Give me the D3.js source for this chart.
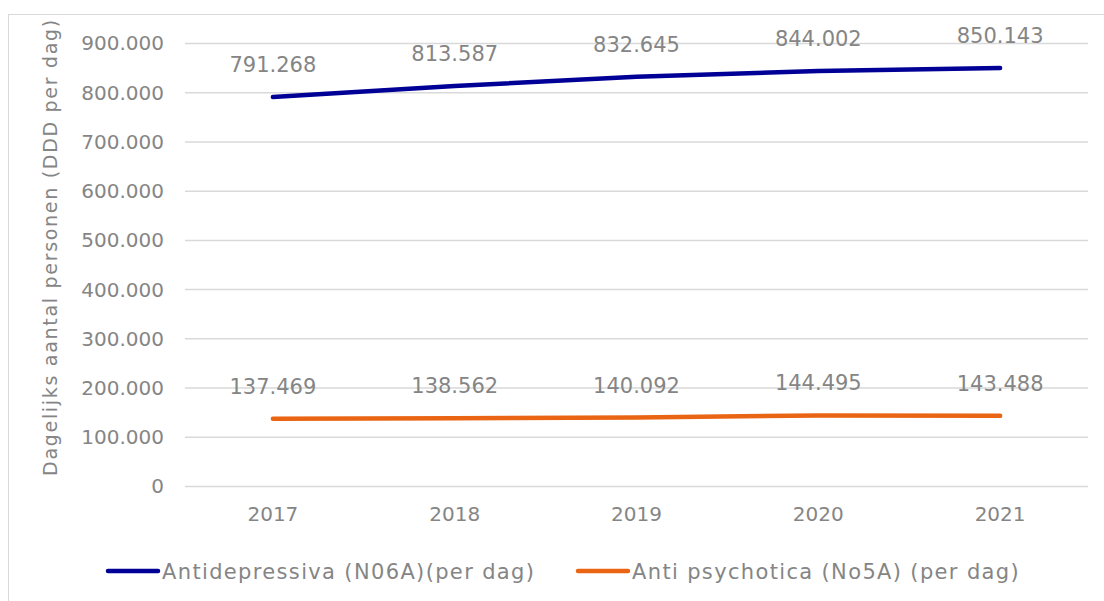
<!DOCTYPE html>
<html>
<head>
<meta charset="utf-8">
<script src="https://cdn.jsdelivr.net/npm/d3@7"></script>
<style>
  body { margin: 0; background: #fff; }
  text { font-family: "Century Gothic", "DejaVu Sans", sans-serif; fill: #858585; }
</style>
</head>
<body>
<script>
'use strict';

const years = ["2017", "2018", "2019", "2020", "2021"];
const antidepressiva = [791268, 813587, 832645, 844002, 850143];
const antipsychotica = [137469, 138562, 140092, 144495, 143488];
const seriesNames = ["Antidepressiva (N06A)(per dag)", "Anti psychotica (No5A) (per dag)"];
const yTicks = [0, 100000, 200000, 300000, 400000, 500000, 600000, 700000, 800000, 900000];

const colors = ["#000096", "#EA6513"];

const width = 1104, height = 601;
const fontFam = "'Century Gothic', 'DejaVu Sans', sans-serif";

// nl number format: 900.000
const fmt = d3.formatLocale({ decimal: ",", thousands: ".", grouping: [3], currency: ["€", ""] }).format(",d");

const svg = d3.select("body").append("svg")
  .attr("width", width)
  .attr("height", height);

// chart border
svg.append("rect")
  .attr("x", 8.5).attr("y", 14.5)
  .attr("width", 1110).attr("height", 600)
  .style("fill", "none")
  .style("stroke", "#d9d9d9")
  .style("stroke-width", 1);

const x = d3.scaleBand().domain(years).range([182, 1091]);
const y = d3.scaleLinear().domain([0, 900000]).range([486.5, 43.5]);

// gridlines
svg.append("g")
  .selectAll("line")
  .data(yTicks)
  .enter().append("line")
  .attr("x1", 185).attr("x2", 1088)
  .attr("y1", d => y(d)).attr("y2", d => y(d))
  .style("stroke", "#d9d9d9")
  .style("stroke-width", 1.5);

// y axis labels
const yAxis = d3.axisLeft(y).tickValues(yTicks).tickFormat(fmt).tickSize(0).tickPadding(0);
const gy = svg.append("g").attr("transform", "translate(164,0)").call(yAxis);
gy.select(".domain").remove();
gy.selectAll("text")
  .style("font-size", "20px")
  .style("fill", "#858585")
  .style("font-family", fontFam);

// x axis labels
const xAxis = d3.axisBottom(x).tickSize(0).tickPadding(0);
const gx = svg.append("g").attr("transform", "translate(0,507)").call(xAxis);
gx.select(".domain").remove();
gx.selectAll("text")
  .style("font-size", "20px")
  .style("fill", "#858585")
  .style("font-family", fontFam);

// y axis title
svg.append("text")
  .attr("transform", "translate(57,247)rotate(-90)")
  .attr("text-anchor", "middle")
  .style("font-size", "19px")
  .style("letter-spacing", "1.7px")
  .text("Dagelijks aantal personen (DDD per dag)");

const cx = d => x(d) + x.bandwidth() / 2;
const line = d3.line()
  .x(d => cx(d.year))
  .y(d => y(d.value));

[antidepressiva, antipsychotica].forEach((vals, i) => {
  const pts = years.map((yr, j) => ({ year: yr, value: vals[j] }));
  svg.append("path")
    .datum(pts)
    .attr("d", line)
    .style("fill", "none")
    .style("stroke", colors[i])
    .style("stroke-width", 4.5)
    .style("stroke-linecap", "round")
    .style("stroke-linejoin", "round");

  svg.append("g")
    .selectAll("text")
    .data(pts)
    .enter().append("text")
    .attr("x", d => cx(d.year))
    .attr("y", d => y(d.value) - 25)
    .attr("text-anchor", "middle")
    .style("font-size", "21px")
    .text(d => fmt(d.value));
});

// legend
const legendX = [108, 578];
seriesNames.forEach((name, i) => {
  svg.append("line")
    .attr("x1", legendX[i]).attr("x2", legendX[i] + 50)
    .attr("y1", 571).attr("y2", 571)
    .style("stroke", colors[i])
    .style("stroke-width", 4.5)
    .style("stroke-linecap", "round");
  svg.append("text")
    .attr("x", legendX[i] + 54)
    .attr("y", 579)
    .style("font-size", "21px")
    .style("letter-spacing", "1.35px")
    .text(name);
});
</script>
</body>
</html>
